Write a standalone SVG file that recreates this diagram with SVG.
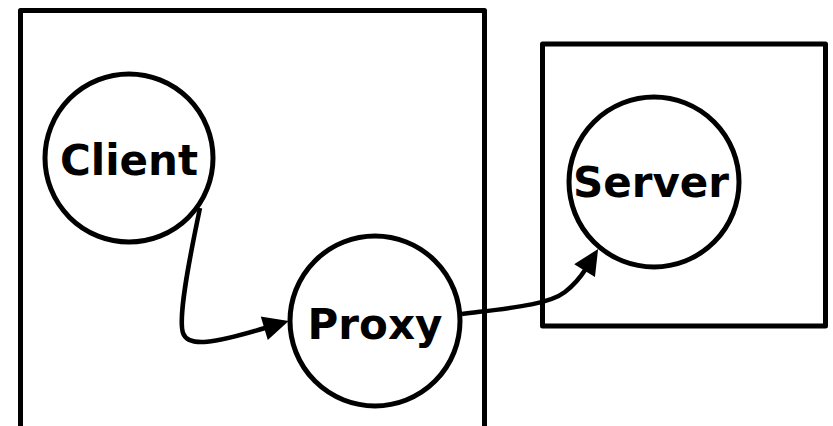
<svg xmlns="http://www.w3.org/2000/svg" width="833" height="426" viewBox="0 0 833 426">
  <style>
    .box { fill: none; stroke: #000; stroke-width: 5; stroke-linejoin: round; }
    .node circle { fill: #fff; stroke: #000; stroke-width: 5; }
    .node text { font-family: "DejaVu Sans", Verdana, sans-serif; font-weight: bold; font-size: 42px; text-anchor: middle; fill: #000; }
    .edge { fill: none; stroke: #000; stroke-width: 4.5; marker-end: url(#arrow); }
  </style>
  <defs>
    <marker id="arrow" markerUnits="userSpaceOnUse" markerWidth="30" markerHeight="30" refX="0" refY="11" orient="auto" overflow="visible">
      <path d="M0,0 L23,11 L0,22 z" fill="#000" stroke="#000" stroke-width="1.5" stroke-linejoin="miter"/>
    </marker>
  </defs>

  <rect id="cluster-local" class="box" x="20.5" y="10.5" width="464" height="430"/>
  <rect id="cluster-remote" class="box" x="542.5" y="44" width="283" height="282"/>

  <g id="connectors">
    <path class="edge" d="M200,208 C188,265 178,318 183,333 C188,348 215,343 265,328"/>
    <path class="edge" d="M462,314 C510,308 548,305 565,292 C575,284 580,278 585,270"/>
  </g>

  <g id="client" class="node">
    <circle cx="129" cy="158" r="84"/>
    <text x="129" y="175">Client</text>
  </g>
  <g id="proxy" class="node">
    <circle cx="375" cy="321" r="85"/>
    <text x="375" y="339">Proxy</text>
  </g>
  <g id="server" class="node">
    <circle cx="654" cy="182" r="85"/>
    <text x="651" y="197">Server</text>
  </g>
</svg>
